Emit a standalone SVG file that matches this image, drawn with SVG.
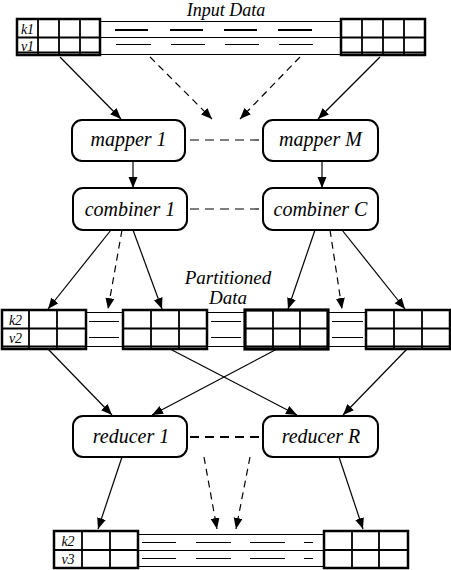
<svg xmlns="http://www.w3.org/2000/svg" width="451" height="570" viewBox="0 0 451 570">
<style>
.blk{fill:#fff;stroke:#000;stroke-width:2.5}
.cell{stroke:#000;stroke-width:1.8;fill:none}
.band{stroke:#000;stroke-width:1;fill:none}
.dsh{stroke:#000;stroke-width:1}
.dshb{stroke:#000;stroke-width:2}
.box{fill:#fff;stroke:#000;stroke-width:2}
.lbl{font-family:'Liberation Serif','Times New Roman','DejaVu Serif',serif;font-style:italic;font-size:20px;text-anchor:middle}
.kv{font-family:'Liberation Serif','Times New Roman','DejaVu Serif',serif;font-style:italic;font-size:14px;text-anchor:middle}
.con{stroke:#000;stroke-width:1.2;fill:none;marker-end:url(#ah)}
.cond{stroke:#000;stroke-width:1.2;fill:none;stroke-dasharray:7,5;marker-end:url(#ah)}
.link{stroke:#000;stroke-width:1.2;stroke-dasharray:9,6}
</style>
<defs>
<marker id="ah" markerUnits="userSpaceOnUse" markerWidth="12" markerHeight="10" refX="11" refY="4.5" orient="auto">
<path d="M0,0 L11,4.5 L0,9 Z" fill="#000"/>
</marker>
</defs>
<rect width="451" height="570" fill="#fff"/>

<g id="input-data">
<text class="lbl" x="226" y="16" style="font-size:18px">Input Data</text>
<path class="band" d="M100,21.5 H341 M100,37.5 H341 M100,54.5 H341"/>
<path class="dshb" d="M115,30 H148 M170,30 H203 M224,30 H257 M278,30 H312"/>
<path class="dsh" d="M116,44.5 H151 M171,44.5 H205 M225,44.5 H259 M279,44.5 H313"/>
<rect class="blk" x="17" y="19" width="83" height="36"/>
<path class="cell" d="M17,37.5 H100 M38,19 V55 M59,19 V55 M80,19 V55 M17,52.5 H100"/>
<text class="kv" x="27.5" y="34">k1</text>
<text class="kv" x="27.5" y="51">v1</text>
<rect class="blk" x="341" y="19" width="84" height="36"/>
<path class="cell" d="M341,37.5 H425 M362,19 V55 M383,19 V55 M404,19 V55 M341,52.5 H425"/>
</g>

<g id="mapper1"><rect class="box" x="72" y="120" width="113" height="41" rx="10"/><text class="lbl" x="128.5" y="146">mapper 1</text></g>
<g id="mapperM"><rect class="box" x="263" y="120" width="115" height="41" rx="10"/><text class="lbl" x="320.5" y="146">mapper M</text></g>
<g id="combiner1"><rect class="box" x="73" y="188" width="114" height="42" rx="10"/><text class="lbl" x="130" y="216">combiner 1</text></g>
<g id="combinerC"><rect class="box" x="263" y="188" width="115" height="42" rx="10"/><text class="lbl" x="320.5" y="216">combiner C</text></g>

<g id="partitioned-data">
<text class="lbl" x="228" y="284" style="font-size:19px">Partitioned</text>
<text class="lbl" x="228" y="304" style="font-size:19px">Data</text>
<path class="band" d="M86,312.5 H123 M86,346.5 H123 M207,312.5 H245 M207,346.5 H245 M328,312.5 H366 M328,346.5 H366"/>
<path class="dsh" d="M89,321.5 H119 M89,337.5 H119 M211,321.5 H241 M211,337.5 H241 M332,321.5 H363 M332,337.5 H363"/>
<rect class="blk" x="2" y="310" width="84" height="39"/>
<path class="cell" d="M2,328.5 H86 M29,310 V349 M57,310 V349 M2,346.5 H86"/>
<text class="kv" x="15.5" y="325">k2</text>
<text class="kv" x="15.5" y="343">v2</text>
<rect class="blk" x="123" y="310" width="84" height="39"/>
<path class="cell" d="M123,328.5 H207 M151,310 V349 M179,310 V349 M123,346.5 H207"/>
<rect class="blk" x="245" y="310" width="83" height="39" style="stroke-width:3.2"/>
<path class="cell" d="M245,328.5 H328 M273,310 V349 M300,310 V349 M245,346.5 H328"/>
<rect class="blk" x="366" y="310" width="84" height="39"/>
<path class="cell" d="M366,328.5 H450 M394,310 V349 M422,310 V349 M366,346.5 H450"/>
</g>

<g id="reducer1"><rect class="box" x="73" y="416" width="114" height="41" rx="10"/><text class="lbl" x="131" y="443">reducer 1</text></g>
<g id="reducerR"><rect class="box" x="263" y="416" width="115" height="41" rx="10"/><text class="lbl" x="321" y="443">reducer R</text></g>

<g id="output-data">
<path class="band" d="M138,534.5 H324 M138,550.5 H324 M138,566.5 H324"/>
<path class="dsh" d="M142,542.5 H176 M196,542.5 H231 M250,542.5 H285 M304,542.5 H313 M142,558.5 H176 M196,558.5 H231 M250,558.5 H285 M304,558.5 H313"/>
<rect class="blk" x="54" y="531" width="84" height="37"/>
<path class="cell" d="M54,550 H138 M82,531 V568 M110,531 V568"/>
<text class="kv" x="68" y="546">k2</text>
<text class="kv" x="68" y="564">v3</text>
<rect class="blk" x="324" y="531" width="84" height="37"/>
<path class="cell" d="M324,550 H408 M352,531 V568 M379,531 V568"/>
</g>

<g id="connectors">
<line class="con" x1="60" y1="57" x2="121" y2="119"/>
<line class="cond" x1="150" y1="57" x2="212" y2="119"/>
<line class="cond" x1="300" y1="57" x2="240" y2="119"/>
<line class="con" x1="380" y1="57" x2="318" y2="119"/>
<line class="link" x1="190" y1="140" x2="261" y2="140"/>
<line class="con" x1="133" y1="161" x2="133" y2="188"/>
<line class="con" x1="322" y1="161" x2="322" y2="188"/>
<line class="link" x1="190" y1="209" x2="262" y2="209"/>
<line class="con" x1="111" y1="230" x2="48" y2="309"/>
<line class="cond" x1="122" y1="230" x2="108" y2="309"/>
<line class="con" x1="133" y1="230" x2="162" y2="309"/>
<line class="con" x1="315" y1="230" x2="288" y2="309"/>
<line class="cond" x1="330" y1="230" x2="342" y2="309"/>
<line class="con" x1="342" y1="230" x2="405" y2="309"/>
<line class="con" x1="48" y1="349" x2="112" y2="415"/>
<line class="con" x1="170" y1="349" x2="297" y2="415"/>
<line class="con" x1="277" y1="349" x2="152" y2="415"/>
<line class="con" x1="407" y1="349" x2="343" y2="415"/>
<line class="link" x1="190" y1="437" x2="262" y2="437" style="stroke-width:2"/>
<line class="con" x1="122" y1="457" x2="98" y2="529"/>
<line class="cond" x1="204" y1="457" x2="217" y2="529"/>
<line class="cond" x1="250" y1="457" x2="236" y2="529"/>
<line class="con" x1="339" y1="457" x2="363" y2="529"/>
</g>
</svg>
